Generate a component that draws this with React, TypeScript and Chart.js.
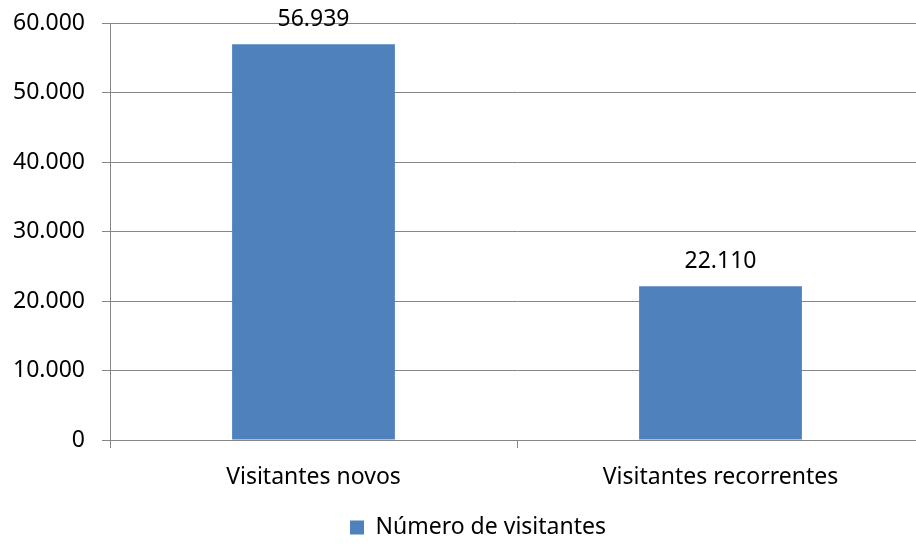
import React, { useEffect, useRef } from "react";
import { Chart, registerables } from "chart.js";

Chart.register(...registerables);

const categories = ["Visitantes novos", "Visitantes recorrentes"];
const visitantes = [56939, 22110];
const seriesLabel = "Número de visitantes";
const yTicks = [0, 10000, 20000, 30000, 40000, 50000, 60000];

const FONT = "'Noto Sans', sans-serif";
const FSIZE = 23;

const fmt = (v: number) =>
  String(Math.round(v)).replace(/\B(?=(\d{3})+(?!\d))/g, ".");

const valueLabels = {
  id: "valueLabels",
  afterDatasetsDraw(chart: any) {
    const ctx = chart.ctx;
    const meta = chart.getDatasetMeta(0);
    const data = chart.data.datasets[0].data as number[];
    ctx.save();
    ctx.font = `${FSIZE}px ${FONT}`;
    ctx.fillStyle = "#000000";
    ctx.textAlign = "center";
    ctx.textBaseline = "middle";
    meta.data.forEach((el: any, i: number) => {
      ctx.fillText(fmt(data[i]), el.x, el.y - 25);
    });
    ctx.restore();
  },
};

const legendShift = {
  id: "legendShift",
  afterLayout(chart: any) {
    const lg = chart.legend;
    if (lg) {
      lg.left += 16;
      lg.right += 16;
    }
  },
};

export default function App() {
  const ref = useRef<HTMLCanvasElement | null>(null);
  useEffect(() => {
    if (!ref.current) return;
    const chart = new Chart(ref.current, {
      type: "bar",
      data: {
        labels: categories,
        datasets: [
          {
            label: seriesLabel,
            data: visitantes,
            backgroundColor: "#4F81BD",
            borderWidth: 0,
            barPercentage: 0.4,
            categoryPercentage: 1,
          },
        ],
      },
      options: {
        animation: false,
        responsive: false,
        maintainAspectRatio: false,
        layout: { padding: { top: 23, right: 8, left: 0, bottom: -4 } },
        plugins: {
          tooltip: { enabled: false },
          legend: {
            position: "bottom",
            labels: {
              font: { family: FONT, size: FSIZE },
              color: "#000000",
              boxWidth: 14,
              boxHeight: 14,
              padding: 9,
            },
          },
        },
        scales: {
          x: {
            grid: {
              drawOnChartArea: false,
              drawTicks: true,
              tickLength: 8,
              color: "#868686",
              offset: true,
            },
            border: { color: "#868686", width: 1 },
            ticks: {
              font: { family: FONT, size: FSIZE },
              color: "#000000",
              padding: 16,
              maxRotation: 0,
            },
            afterFit: (s: any) => {
              s.height = 67;
              s.paddingLeft = 0;
              s.paddingRight = 0;
            },
          },
          y: {
            min: 0,
            max: 60000,
            afterBuildTicks: (s: any) => {
              s.ticks = yTicks.map((v) => ({ value: v }));
            },
            grid: {
              color: "#868686",
              tickLength: 8,
              drawTicks: true,
            },
            border: { color: "#868686", width: 1 },
            ticks: {
              font: { family: FONT, size: FSIZE },
              color: "#000000",
              padding: 17,
              callback: (v: any) => fmt(Number(v)),
            },
            afterFit: (s: any) => {
              s.width = 110;
              s.paddingTop = 0;
              s.paddingBottom = 0;
            },
          },
        },
      },
      plugins: [valueLabels, legendShift],
    } as any);
    return () => chart.destroy();
  }, []);
  return (
    <div
      style={{
        position: "fixed",
        left: 0,
        top: 0,
        width: 916,
        height: 545,
        overflow: "hidden",
        background: "#ffffff",
      }}
    >
      <canvas ref={ref} width={932} height={545} style={{ display: "block" }} />
    </div>
  );
}
